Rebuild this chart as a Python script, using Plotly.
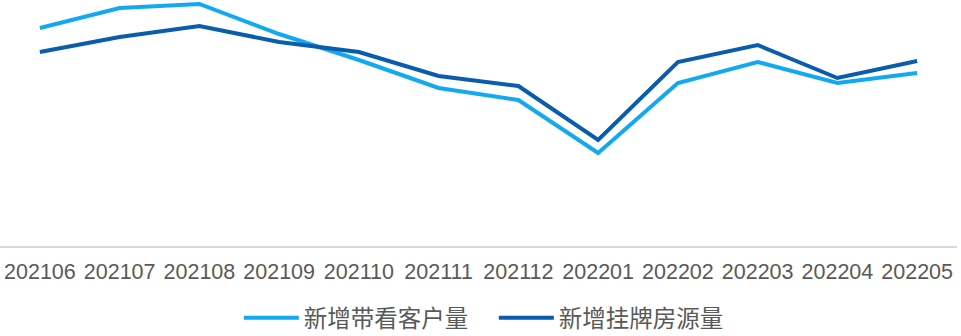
import plotly.graph_objects as go

months = ["202106", "202107", "202108", "202109", "202110", "202111",
          "202112", "202201", "202202", "202203", "202204", "202205"]
new_viewing_clients = [218, 238, 242, 212, 186, 158, 146, 93, 163, 184, 163, 173]
new_listings = [194, 209, 220, 204, 194, 170, 160, 106, 184, 201, 168, 185]
series_names = ["新增带看客户量", "新增挂牌房源量"]

LIGHT = "#13A9F1"
DARK = "#0A5CAD"

fig = go.Figure()
fig.add_trace(go.Scatter(x=months, y=new_viewing_clients, name=series_names[0],
                         mode="lines", line=dict(color=LIGHT, width=4)))
fig.add_trace(go.Scatter(x=months, y=new_listings, name=series_names[1],
                         mode="lines", line=dict(color=DARK, width=4)))

tick_font = dict(family="Liberation Sans, Arial", size=21.5, color="#595959")

fig.update_layout(
    width=961, height=336,
    margin=dict(l=0, r=4, t=0, b=90),
    paper_bgcolor="white", plot_bgcolor="white",
    showlegend=True,
    legend=dict(orientation="h", x=0.516, xanchor="center",
                yref="container", y=1 - 318 / 336, yanchor="middle",
                font=dict(family="Noto Sans CJK SC", size=23.5, color="#595959"),
                itemwidth=55, tracegroupgap=0,
                entrywidth=185, entrywidthmode="pixels",
                bgcolor="rgba(0,0,0,0)"),
    xaxis=dict(type="category", showgrid=False, zeroline=False,
               showline=True, linecolor="#D9D9D9", linewidth=1.5,
               ticks="", tickfont=tick_font, ticklabelstandoff=5,
               tickangle=0, automargin=False,
               range=[-0.5, 11.5]),
    yaxis=dict(range=[0, 246], visible=False, showgrid=False, zeroline=False,
               automargin=False),
)

fig.write_html("out.html")
